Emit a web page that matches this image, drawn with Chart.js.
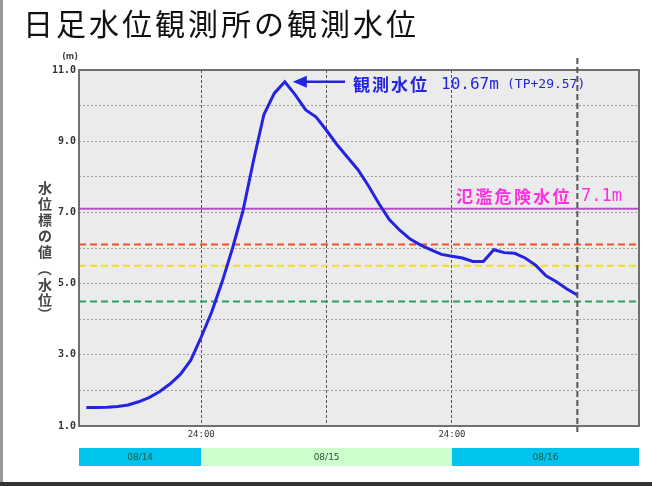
<!DOCTYPE html>
<html>
<head>
<meta charset="utf-8">
<script src="https://cdn.jsdelivr.net/npm/chart.js@4"></script>
<style>
  html, body { margin: 0; padding: 0; background: #fff; }
  canvas { display: block; }
</style>
</head>
<body>
<canvas id="levelChart" width="652" height="486"></canvas>
<script>
// hours counted from 08/14 00:00
const hours = [13, 14, 15, 16, 17, 18, 19, 20, 21, 22, 23, 24, 25, 26, 27, 28, 29, 30, 31, 32,
  33, 34, 35, 36, 37, 38, 39, 40, 41, 42, 43, 44, 45, 46, 47, 48, 49, 50, 51, 52,
  53, 54, 55, 56, 57, 58, 59, 60];
const waterLevel = [1.52, 1.52, 1.53, 1.55, 1.59, 1.68, 1.80, 1.96, 2.18, 2.45, 2.85, 3.50, 4.20, 5.05, 6.00, 7.05, 8.45, 9.75, 10.35, 10.67,
  10.30, 9.88, 9.68, 9.30, 8.90, 8.55, 8.20, 7.75, 7.25, 6.80, 6.50, 6.25, 6.08, 5.95, 5.82, 5.77, 5.72, 5.62, 5.62, 5.95,
  5.87, 5.85, 5.72, 5.52, 5.22, 5.05, 4.85, 4.68];
const thresholdNames = ["氾濫危険水位", "避難判断水位", "氾濫注意水位", "水防団待機水位"];
const thresholdLevels = [7.1, 6.1, 5.5, 4.5];
const thresholdColors = ["#b84fc8", "#f0502a", "#f0e020", "#2ea060"];
const dayLabels = ["08/14", "08/15", "08/16"];
const dayStarts = [0, 24, 48];
const dayColors = ["#00c4ee", "#ccffcc", "#00c4ee"];
const xMin = 12.3, xMax = 65.9;
const nowHour = 60;
const peakValue = 10.67;

const lineSets = thresholdLevels.map((lv, i) => ({
  label: thresholdNames[i],
  data: [{x: xMin, y: lv}, {x: xMax, y: lv}],
  borderColor: thresholdColors[i],
  borderWidth: 2,
  borderDash: i === 0 ? [] : [7, 4],
  pointRadius: 0
}));

// draws a string one glyph at a time with a fixed pitch
function spaced(ctx, text, x0, y0, pitch) {
  [...text].forEach((c, i) => ctx.fillText(c, x0 + i * pitch, y0));
}

const decorations = {
  id: "decorations",
  beforeDraw(chart) {
    const {ctx, chartArea: a} = chart;
    ctx.save();
    ctx.fillStyle = "#ebebeb";
    ctx.fillRect(a.left, a.top, a.right - a.left, a.bottom - a.top);
    ctx.restore();
  },
  afterDraw(chart) {
    const {ctx, chartArea: a, scales: {x, y}} = chart;
    ctx.save();
    // frame
    ctx.strokeStyle = "#707070";
    ctx.lineWidth = 2;
    ctx.strokeRect(a.left, a.top, a.right - a.left, a.bottom - a.top);

    // current time line
    const nx = x.getPixelForValue(nowHour);
    ctx.strokeStyle = "#555";
    ctx.lineWidth = 2;
    ctx.setLineDash([6, 3]);
    ctx.beginPath();
    ctx.moveTo(nx, a.top - 12);
    ctx.lineTo(nx, a.bottom + 6);
    ctx.stroke();
    ctx.setLineDash([]);

    // title
    ctx.fillStyle = "#111";
    ctx.font = "30px 'Noto Sans CJK JP'";
    ctx.textBaseline = "middle";
    ctx.textAlign = "center";
    spaced(ctx, "日足水位観測所の観測水位", 38, 24, 33);

    // y axis title, written vertically
    ctx.fillStyle = "#444";
    ctx.font = "bold 14px 'Noto Sans CJK JP'";
    [..."水位標の値"].forEach((c, i) => ctx.fillText(c, 45, 188 + i * 16));
    ctx.save();
    ctx.translate(45, 269);
    ctx.rotate(Math.PI / 2);
    ctx.fillText("（", 0, 0);
    ctx.restore();
    ctx.fillText("水", 45, 285);
    ctx.fillText("位", 45, 300);
    ctx.save();
    ctx.translate(45, 314);
    ctx.rotate(Math.PI / 2);
    ctx.fillText("）", 0, 0);
    ctx.restore();
    ctx.font = "bold 8px 'DejaVu Sans'";
    ctx.fillText("(m)", 70, 57);

    // peak annotation
    const px = x.getPixelForValue(hours[waterLevel.indexOf(peakValue)]);
    const py = y.getPixelForValue(peakValue);
    ctx.strokeStyle = "#2424e0";
    ctx.fillStyle = "#2424e0";
    ctx.lineWidth = 2.5;
    ctx.beginPath();
    ctx.moveTo(px + 20, py);
    ctx.lineTo(345, py);
    ctx.stroke();
    ctx.beginPath();
    ctx.moveTo(px + 8, py);
    ctx.lineTo(px + 22, py - 6);
    ctx.lineTo(px + 22, py + 6);
    ctx.closePath();
    ctx.fill();
    ctx.textAlign = "center";
    ctx.font = "bold 17px 'Noto Sans CJK JP'";
    spaced(ctx, "観測水位", 361.5, py + 3, 19);
    ctx.textAlign = "left";
    ctx.font = "16px 'DejaVu Sans Mono'";
    ctx.fillText("10.67m", 441, py + 3);
    ctx.font = "13px 'DejaVu Sans Mono'";
    ctx.fillText("(TP+29.57)", 507, py + 3);

    // danger level label
    const dy = y.getPixelForValue(thresholdLevels[0]);
    ctx.fillStyle = "#ff2ee0";
    ctx.textAlign = "center";
    ctx.font = "bold 17px 'Noto Sans CJK JP'";
    spaced(ctx, thresholdNames[0], 464.5, dy - 12, 19.3);
    ctx.textAlign = "left";
    ctx.font = "17px 'DejaVu Sans Mono'";
    ctx.fillText(thresholdLevels[0] + "m", 581, dy - 12);

    // date bar
    const ends = dayStarts.slice(1).concat([xMax]);
    dayLabels.forEach((d, i) => {
      const l = x.getPixelForValue(Math.max(dayStarts[i], xMin));
      const r = x.getPixelForValue(ends[i]);
      ctx.fillStyle = dayColors[i];
      ctx.fillRect(l, 448, r - l, 18);
      ctx.fillStyle = "#1f5a3a";
      ctx.font = "9px 'DejaVu Sans'";
      ctx.textAlign = "center";
      ctx.fillText(d, (l + r) / 2, 458);
    });

    // picture frame
    ctx.fillStyle = "#999";
    ctx.fillRect(0, 0, 3, 486);
    ctx.fillStyle = "#333";
    ctx.fillRect(0, 482, 652, 4);
    ctx.restore();
  }
};

new Chart(document.getElementById("levelChart"), {
  type: "line",
  data: {
    datasets: [
      {
        label: "観測水位",
        data: hours.map((h, i) => ({x: h, y: waterLevel[i]})),
        borderColor: "#2424e0",
        borderWidth: 3,
        pointRadius: 0,
        tension: 0
      },
      ...lineSets
    ]
  },
  options: {
    responsive: false,
    animation: false,
    layout: {padding: {top: 70, right: 13, left: 0, bottom: 0}},
    plugins: {legend: {display: false}, tooltip: {enabled: false}},
    scales: {
      x: {
        type: "linear",
        min: xMin,
        max: xMax,
        afterFit: s => { s.height = 60; },
        afterBuildTicks: s => { s.ticks = [24, 36, 48].map(v => ({value: v})); },
        grid: {color: "#555", lineWidth: 1, drawTicks: false},
        border: {display: false, dash: [3, 2]},
        ticks: {
          padding: 3,
          color: "#333",
          font: {family: "DejaVu Sans Mono", size: 9},
          maxRotation: 0,
          callback: v => (v % 24 === 0 ? "24:00" : "")
        }
      },
      y: {
        min: 1,
        max: 11,
        afterFit: s => { s.width = 79; },
        grid: {color: "#a0a0a0", lineWidth: 1, drawTicks: false},
        border: {display: false, dash: [2, 2]},
        ticks: {
          stepSize: 1,
          padding: 3,
          color: "#333",
          font: {family: "DejaVu Sans Mono", size: 10, weight: "bold"},
          callback: v => (v % 2 === 1 ? v.toFixed(1) : "")
        }
      }
    }
  },
  plugins: [decorations]
});
</script>
</body>
</html>
